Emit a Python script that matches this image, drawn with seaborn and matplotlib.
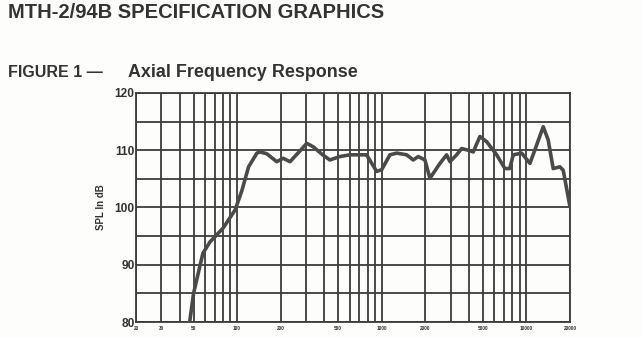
import matplotlib
matplotlib.use("Agg")
import matplotlib.pyplot as plt
import matplotlib.ticker as mticker
import seaborn as sns
import pandas as pd

freq_hz = [47, 50, 58, 65, 80, 97, 108, 120, 137, 144, 160, 188, 208, 232, 270, 303, 336,
           390, 438, 514, 602, 785, 921, 998, 1138, 1268, 1486, 1650, 1786, 1987, 2151,
           2522, 2807, 2960, 3290, 3564, 3962, 4287, 4766, 5304, 6223, 7096, 7660, 8101,
           9266, 10570, 11750, 13060, 14130, 15300, 17020, 17950, 20000]
spl_db = [80, 85, 92, 94, 96.4, 99.6, 103, 107.1, 109.5, 109.7, 109.4, 108, 108.6, 108,
          109.8, 111.2, 110.6, 109.2, 108.3, 108.9, 109.2, 109.2, 106.3, 106.6, 109.2,
          109.5, 109.2, 108.3, 108.9, 108.3, 105.1, 107.7, 109.2, 108, 109.2, 110.3, 110,
          109.7, 112.4, 111.5, 109.2, 106.8, 106.8, 109.2, 109.5, 107.7, 110.9, 114.1,
          111.8, 106.8, 107.1, 106.5, 100.1]
x_ticks = [20, 30, 50, 100, 200, 500, 1000, 2000, 5000, 10000, 20000]
x_tick_labels = ["20", "30", "50", "100", "200", "500", "1000", "2000", "5000", "10000", "20000"]
y_ticks = [80, 90, 100, 110, 120]

title = "MTH-2/94B SPECIFICATION GRAPHICS"
figure_label = "FIGURE 1 \u2014"
subtitle = "Axial Frequency Response"
y_label = "SPL In dB"

sns.set_style("white")
plt.rcParams["font.family"] = ["Liberation Sans", "DejaVu Sans"]

df = pd.DataFrame({"freq": freq_hz, "spl": spl_db})

fig = plt.figure(figsize=(6.43, 3.38), dpi=100)
fig.patch.set_facecolor("#fdfdfb")
ax = fig.add_axes([0.2115, 0.0473, 0.675, 0.6776])
ax.set_facecolor("#fdfdfb")

ink = "#333333"
sns.lineplot(data=df, x="freq", y="spl", ax=ax, color="#4a4a4a", linewidth=2.6, zorder=5)

ax.set_xscale("log")
ax.set_xlim(20, 20000)
ax.set_ylim(80, 120)
ax.set_xticks(x_ticks)
ax.set_xticklabels(x_tick_labels)
ax.xaxis.set_minor_locator(mticker.LogLocator(base=10, subs=range(2, 10)))
ax.xaxis.set_minor_formatter(mticker.NullFormatter())
ax.set_yticks(y_ticks)
ax.yaxis.set_minor_locator(mticker.MultipleLocator(5))

ax.grid(True, which="both", axis="x", color="#3c3c3c", linewidth=1.3)
ax.grid(True, which="both", axis="y", color="#3c3c3c", linewidth=1.3)
ax.set_axisbelow(True)
for s in ax.spines.values():
    s.set_color("#3c3c3c")
    s.set_linewidth(1.3)

ax.tick_params(axis="x", which="both", length=0, labelsize=3.4, colors=ink, pad=3)
ax.tick_params(axis="y", which="both", length=0, labelsize=8.6, colors=ink, pad=1)
for lab in ax.get_xticklabels() + ax.get_yticklabels():
    lab.set_fontweight("bold")

ax.set_xlabel("")
ax.set_ylabel(y_label, fontsize=7, fontweight="bold", color=ink, labelpad=6)

fig.text(0.012, 0.962, title, fontsize=14.5, fontweight="bold", color=ink, va="center")
fig.text(0.012, 0.785, figure_label, fontsize=11.5, fontweight="bold", color=ink, va="center")
fig.text(128 / 643, 0.785, subtitle, fontsize=12.9, fontweight="bold", color=ink, va="center")

fig.savefig("out.png", dpi=100, facecolor=fig.get_facecolor())
